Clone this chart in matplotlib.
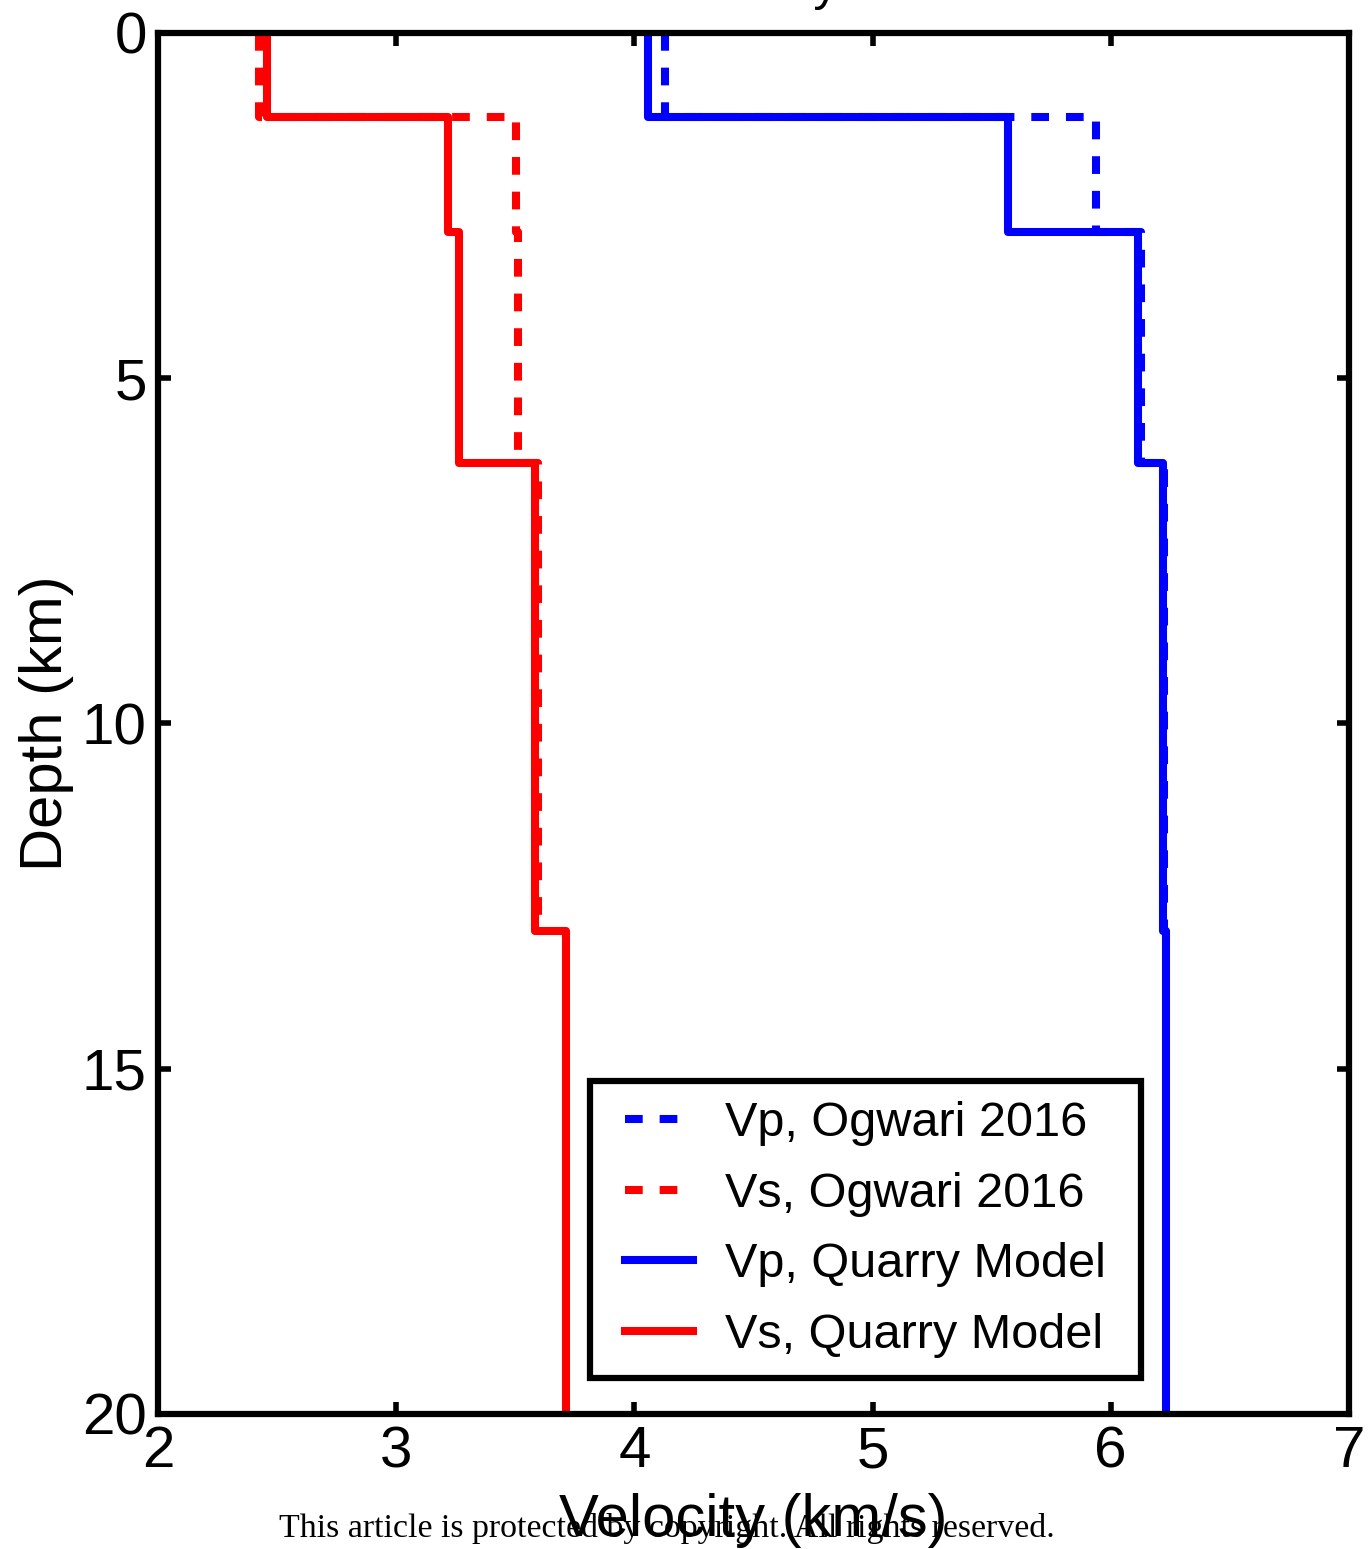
import numpy as np
import matplotlib.pyplot as plt
from matplotlib.lines import Line2D
from matplotlib.legend_handler import HandlerLine2D

# layer tops (km) and velocities (km/s), piecewise constant
quarry_depth = [0.0, 1.22, 2.88, 6.23, 13.0, 20.0]
quarry_vp = [4.057, 5.568, 6.114, 6.219, 6.232]
quarry_vs = [2.458, 3.217, 3.264, 3.583, 3.713]

ogwari_depth = [0.0, 1.22, 2.88, 6.23, 13.0]
ogwari_vp = [4.128, 5.938, 6.127, 6.222]
ogwari_vs = [2.424, 3.503, 3.511, 3.595]


def steps(depth, vel):
   # build staircase coordinates for a layered model
   xs, ys = [], []
   for i, v in enumerate(vel):
      xs += [v, v]
      ys += [depth[i], depth[i + 1]]
   return np.array(xs), np.array(ys)


plt.rcParams['font.family'] = ['Liberation Sans', 'DejaVu Sans']

fig = plt.figure(figsize=(13.69, 15.49), dpi=100)
ax = fig.add_axes([0.1154, 0.0872, 0.87, 0.8915])

lw = 5.8
dash = (0, (2.2, 2.1))
x, y = steps(ogwari_depth, ogwari_vp)
ax.plot(x, y, color='b', lw=lw, ls=dash, label='Vp, Ogwari 2016')
x, y = steps(ogwari_depth, ogwari_vs)
ax.plot(x, y, color='r', lw=lw, ls=dash, label='Vs, Ogwari 2016')
x, y = steps(quarry_depth, quarry_vp)
ax.plot(x, y, color='b', lw=lw, label='Vp, Quarry Model', solid_joinstyle='round')
x, y = steps(quarry_depth, quarry_vs)
ax.plot(x, y, color='r', lw=lw, label='Vs, Quarry Model', solid_joinstyle='round')

ax.set_xlim(2, 7)
ax.set_ylim(20, 0)
ax.set_xticks([2, 3, 4, 5, 6, 7])
ax.set_yticks([0, 5, 10, 15, 20])
ax.tick_params(direction='in', length=9, width=4, labelsize=42, top=True, right=True, pad=8)
for s in ax.spines.values():
   s.set_linewidth(4.5)

ax.set_xlabel('Velocity (km/s)', fontsize=43, labelpad=10)
ax.set_ylabel('Depth (km)', fontsize=43, labelpad=6)

# legend box stretched to a fixed width, handles nudged in from the frame
leg = ax.legend(loc='lower left', bbox_to_anchor=(0.3627, 0.026, 0.4627, 0.215),
                mode='expand', borderaxespad=0, fontsize=35, fancybox=False,
                framealpha=1, handlelength=1.7, handletextpad=0.66,
                labelspacing=0.525, borderpad=0.42,
                handler_map={Line2D: HandlerLine2D(xpad=0.3)})
leg.get_frame().set_edgecolor('k')
leg.get_frame().set_linewidth(4.5)

# title sits mostly above the canvas
fig.text(0.55, 1.0, 'Velocity', fontsize=36, ha='center', va='baseline')

fig.text(0.487, 0.0077, 'This article is protected by copyright. All rights reserved.',
         fontsize=24.4, family='Liberation Serif', ha='center', va='baseline')

fig.savefig('out.png', dpi=100)
